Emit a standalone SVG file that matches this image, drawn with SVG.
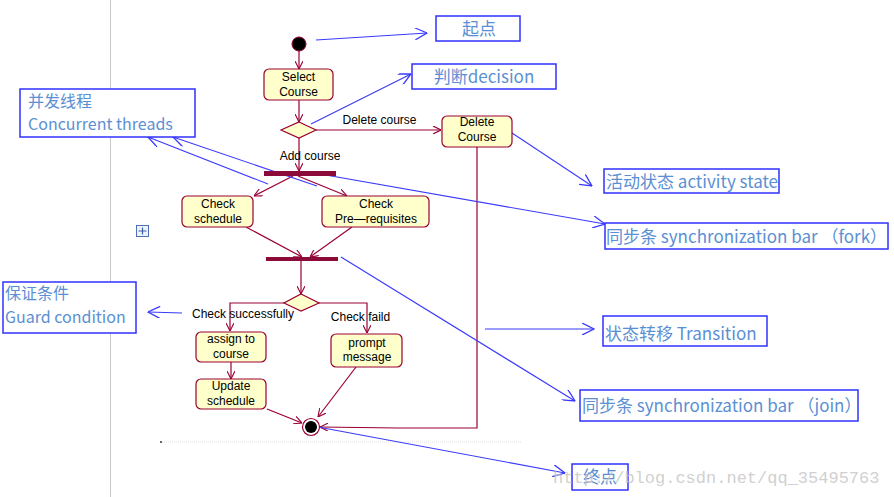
<svg xmlns="http://www.w3.org/2000/svg" width="894" height="497" viewBox="0 0 894 497">
<style>
.node{fill:#ffffcc;stroke:#990033;stroke-width:1.2}
.bar{fill:#8b0a3a}
.t{font-family:"Liberation Sans",Arial,sans-serif;font-size:12px;fill:#000;text-anchor:middle}
.tr{fill:none;stroke:#990033;stroke-width:1.2;marker-end:url(#ar)}
.ann{fill:none;stroke:#3a3aff;stroke-width:1.1;marker-end:url(#ab)}
.box{fill:#fff;stroke:#3030ff;stroke-width:1.5}
.at{font-family:"Noto Sans CJK SC","Microsoft YaHei",sans-serif;font-size:17px;fill:#5b8fd3}
.at2{font-family:"Noto Sans CJK SC","Microsoft YaHei",sans-serif;font-size:16px;fill:#5b8fd3}
</style>
<defs>
<marker id="ar" viewBox="0 0 10 10" refX="10" refY="5" markerWidth="8" markerHeight="8" markerUnits="userSpaceOnUse" orient="auto">
<path d="M0,0 L10,5 L0,10" fill="none" stroke="#990033" stroke-width="1.4"/>
</marker>
<marker id="ab" viewBox="0 0 12 12" refX="12" refY="6" markerWidth="13" markerHeight="12" markerUnits="userSpaceOnUse" orient="auto">
<path d="M0,0 L12,6 L0,12" fill="none" stroke="#3a3aff" stroke-width="1.3"/>
</marker>
</defs>
<rect x="0" y="0" width="894" height="497" fill="#fff"/>
<line x1="110.5" y1="0" x2="110.5" y2="497" stroke="#c8c8c8" stroke-width="1"/>
<line x1="162" y1="442" x2="522" y2="442" stroke="#e0e0e0" stroke-width="1" stroke-dasharray="1,1"/>
<rect x="160" y="441" width="2" height="2" fill="#666"/>
<g id="move-icon">
<rect x="136.5" y="225.5" width="12" height="11" fill="#eef3fb" stroke="#4a6fb5"/>
<path d="M142.5,227.5 V234.5 M138.5,231 H146.5" stroke="#3a5ea8" stroke-width="1.2"/>
</g>

<g id="connectors">
<line class="tr" x1="299" y1="51" x2="299" y2="69"/>
<line class="tr" x1="299" y1="100" x2="299" y2="122"/>
<line class="tr" x1="316" y1="130" x2="441" y2="130"/>
<line class="tr" x1="299" y1="138" x2="299" y2="171"/>
<line class="tr" x1="293" y1="176" x2="254" y2="196"/>
<line class="tr" x1="298" y1="176" x2="347" y2="196"/>
<line class="tr" x1="246" y1="227" x2="302" y2="257"/>
<line class="tr" x1="352" y1="227" x2="310" y2="257"/>
<line class="tr" x1="301" y1="261" x2="301" y2="294"/>
<polyline class="tr" points="284,303 230,303 230,331"/>
<polyline class="tr" points="319,303 367,303 367,333"/>
<line class="tr" x1="231" y1="362" x2="231" y2="379"/>
<line class="tr" x1="267" y1="409" x2="302" y2="423"/>
<line class="tr" x1="356" y1="367" x2="318" y2="417"/>
<polyline class="tr" points="477,147 477,428 398,428 320,427"/>

<line class="ann" x1="316" y1="40" x2="427" y2="33"/>
<line class="ann" x1="311" y1="124" x2="411" y2="74"/>
<line class="ann" x1="268" y1="184" x2="148" y2="137"/>
<line class="ann" x1="317" y1="186" x2="173" y2="137"/>
<line class="ann" x1="320" y1="174" x2="605" y2="224"/>
<line class="ann" x1="512" y1="133" x2="592" y2="186"/>
<line class="ann" x1="182" y1="313" x2="148" y2="312"/>
<line class="ann" x1="485" y1="329" x2="594" y2="329"/>
<line class="ann" x1="341" y1="257" x2="575" y2="401"/>
<line class="ann" x1="318" y1="427" x2="565" y2="473"/>
</g>

<g id="start"><circle cx="299" cy="44" r="7" fill="#000" stroke="#990033" stroke-width="1"/></g>
<g id="select-course">
<rect class="node" x="264" y="69" width="69" height="31" rx="5"/>
<text class="t" x="298.5" y="81">Select</text>
<text class="t" x="298.5" y="96">Course</text>
</g>
<g id="decision1"><polygon class="node" points="299,122 316,130 299,138 281,130"/></g>
<g id="delete-course">
<rect class="node" x="442" y="116" width="70" height="31" rx="5"/>
<text class="t" x="477" y="126">Delete</text>
<text class="t" x="477" y="141">Course</text>
</g>
<g id="fork"><rect class="bar" x="264" y="171" width="72" height="5"/></g>
<g id="check-schedule">
<rect class="node" x="182" y="196" width="71" height="31" rx="5"/>
<text class="t" x="218" y="208">Check</text>
<text class="t" x="218" y="223">schedule</text>
</g>
<g id="check-prereq">
<rect class="node" x="322" y="196" width="107" height="31" rx="5"/>
<text class="t" x="376" y="208">Check</text>
<text class="t" x="376" y="223">Pre—requisites</text>
</g>
<g id="join"><rect class="bar" x="266" y="257" width="72" height="4"/></g>
<g id="decision2"><polygon class="node" points="301,294 319,303 301,311 284,303"/></g>
<g id="assign-course">
<rect class="node" x="196" y="332" width="70" height="30" rx="5"/>
<text class="t" x="231" y="343">assign to</text>
<text class="t" x="231" y="358">course</text>
</g>
<g id="update-schedule">
<rect class="node" x="196" y="379" width="70" height="30" rx="5"/>
<text class="t" x="231" y="390">Update</text>
<text class="t" x="231" y="405">schedule</text>
</g>
<g id="prompt-message">
<rect class="node" x="331" y="334" width="71" height="33" rx="5"/>
<text class="t" x="367" y="347">prompt</text>
<text class="t" x="367" y="361">message</text>
</g>
<g id="end">
<circle cx="311" cy="427" r="8.5" fill="#fff" stroke="#990033" stroke-width="1.2"/>
<circle cx="311" cy="427" r="6" fill="#000"/>
</g>

<g id="labels">
<text class="t" x="379.5" y="124">Delete course</text>
<text class="t" x="310" y="160">Add course</text>
<text class="t" x="243" y="318">Check successfully</text>
<text class="t" x="360.5" y="321">Check faild</text>
</g>

<g id="ann-start"><rect class="box" x="436" y="16" width="84" height="25"/><text class="at" x="479" y="35" text-anchor="middle">起点</text></g>
<g id="ann-decision"><rect class="box" x="412" y="64" width="144" height="25"/><text class="at" x="484" y="83" text-anchor="middle">判断decision</text></g>
<g id="ann-threads"><rect class="box" x="20" y="89" width="175" height="48"/><text class="at2" x="28" y="107">并发线程</text><text class="at2" x="28" y="130">Concurrent threads</text></g>
<g id="ann-activity"><rect class="box" x="604" y="169" width="175" height="24"/><text class="at" x="606" y="188">活动状态 activity state</text></g>
<g id="ann-fork"><rect class="box" x="605" y="223" width="283" height="26"/><text class="at" x="606" y="243">同步条 synchronization bar （fork）</text></g>
<g id="ann-guard"><rect class="box" x="3" y="282" width="133" height="51"/><text class="at2" x="5" y="299">保证条件</text><text class="at2" x="5" y="323">Guard condition</text></g>
<g id="ann-transition"><rect class="box" x="603" y="316" width="164" height="30"/><text class="at" x="605" y="340">状态转移 Transition</text></g>
<g id="ann-join"><rect class="box" x="580" y="390" width="278" height="31"/><text class="at" x="582" y="412">同步条 synchronization bar （join）</text></g>
<g id="ann-end"><rect class="box" x="572" y="464" width="56" height="26"/><text class="at" x="600" y="483" text-anchor="middle">终点</text></g>

<text x="553" y="483" font-family="'Liberation Mono','Courier New',monospace" font-size="17" fill="#c4c4c4" fill-opacity="0.8">http://blog.csdn.net/qq_35495763</text>
</svg>
